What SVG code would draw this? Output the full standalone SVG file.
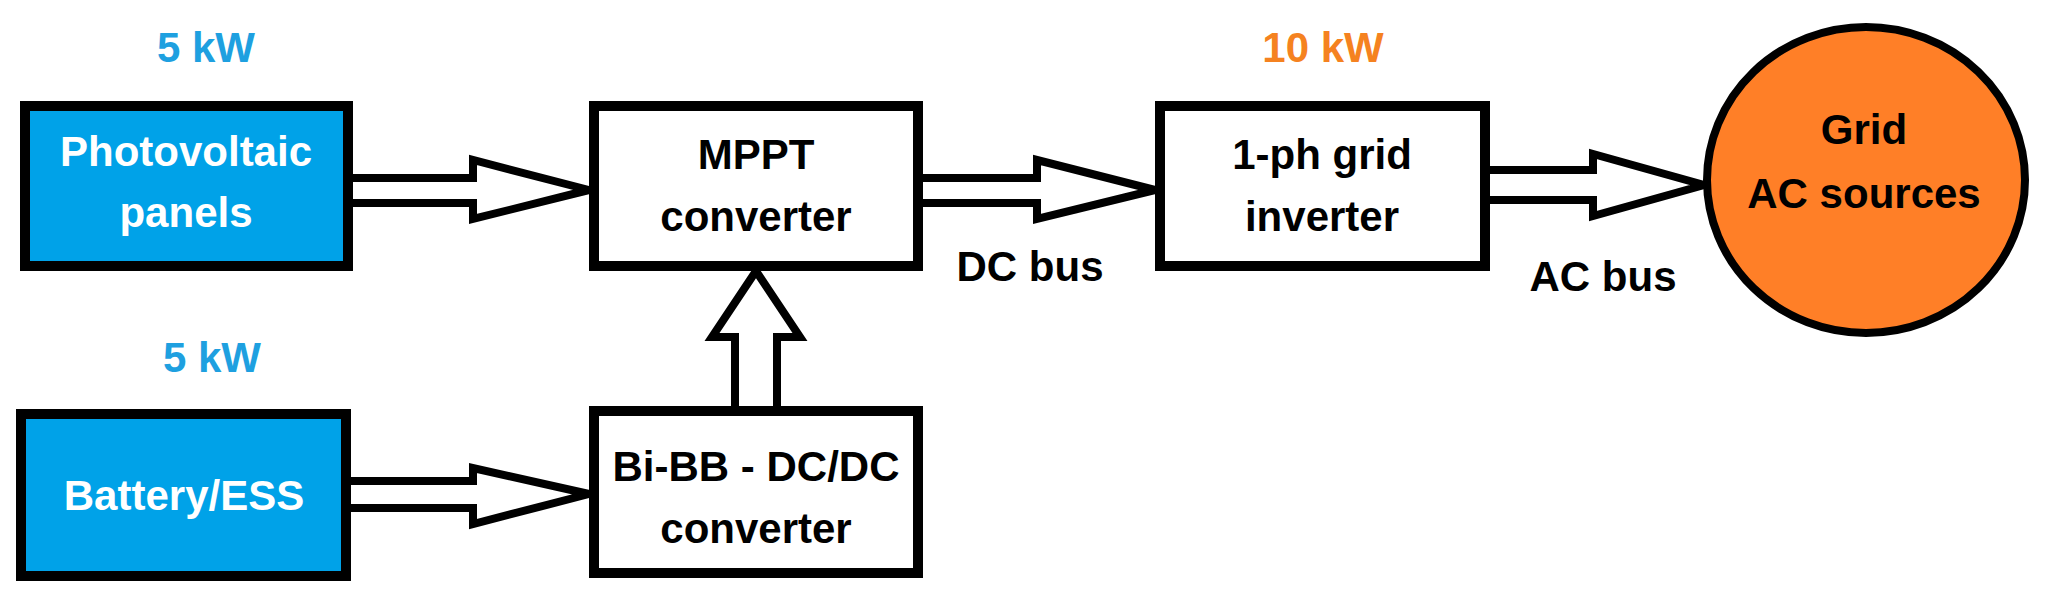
<svg xmlns="http://www.w3.org/2000/svg" width="2049" height="603" viewBox="0 0 2049 603">
<style>
text{font-family:"Liberation Sans",Arial,sans-serif;font-weight:bold;text-anchor:middle;font-size:42px}
.box{fill:#fff;stroke:#000;stroke-width:10}
.blue{fill:#00a2e8;stroke:#000;stroke-width:10}
.arr{fill:#fff;stroke:#000;stroke-width:8;stroke-linejoin:miter}
.w{fill:#fff}.k{fill:#000}.pb{fill:#1ea0e0}.po{fill:#f58220}
</style>
<rect width="2049" height="603" fill="#fff"/>
<g id="connectors">
<path class="arr" d="M353,178 H473 V160 L589,190 L473,219 V203 H353"/>
<path class="arr" d="M923,178 H1037 V160 L1155,190 L1037,219 V203 H923"/>
<path class="arr" d="M1490,170 H1593 V154 L1704,185 L1593,216 V200 H1490"/>
<path class="arr" d="M351,481 H473 V468 L589,494 L473,524 V508 H351"/>
<path class="arr" d="M735,406 V337 H712 L756,271 L800,337 H777 V406"/>
</g>
<g id="pv"><rect class="blue" x="25" y="106" width="323" height="160"/>
<text class="w" x="186" y="166">Photovoltaic</text><text class="w" x="186" y="227">panels</text></g>
<g id="battery"><rect class="blue" x="21" y="414" width="325" height="162"/>
<text class="w" x="184" y="510">Battery/ESS</text></g>
<g id="mppt"><rect class="box" x="594" y="106" width="324" height="160"/>
<text class="k" x="756" y="169">MPPT</text><text class="k" x="756" y="231">converter</text></g>
<g id="bibb"><rect class="box" x="594" y="411" width="324" height="162"/>
<text class="k" x="756" y="481">Bi-BB - DC/DC</text><text class="k" x="756" y="543">converter</text></g>
<g id="inverter"><rect class="box" x="1160" y="106" width="325" height="160"/>
<text class="k" x="1322" y="169">1-ph grid</text><text class="k" x="1322" y="231">inverter</text></g>
<g id="grid"><ellipse cx="1866" cy="180" rx="159" ry="153" fill="#ff7f27" stroke="#000" stroke-width="8"/>
<text class="k" x="1864" y="144">Grid</text><text class="k" x="1864" y="208">AC sources</text></g>
<g id="labels">
<text class="pb" x="206" y="62">5 kW</text>
<text class="pb" x="212" y="372">5 kW</text>
<text class="po" x="1323" y="62">10 kW</text>
<text class="k" x="1030" y="281">DC bus</text>
<text class="k" x="1603" y="291">AC bus</text>
</g>
</svg>
